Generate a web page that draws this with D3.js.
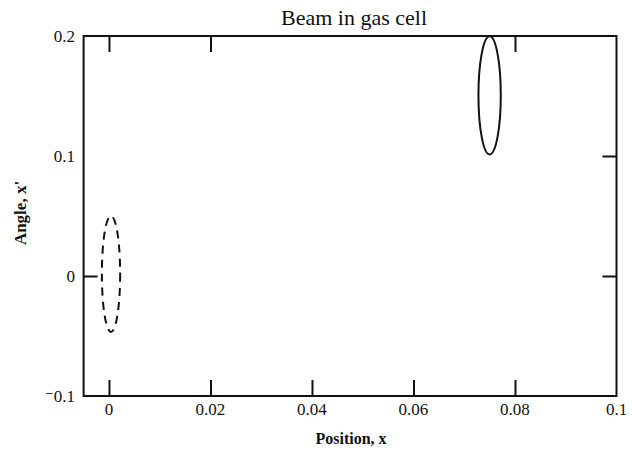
<!DOCTYPE html>
<html>
<head>
<meta charset="utf-8">
<script src="https://cdn.jsdelivr.net/npm/d3@7"></script>
<style>
  body { margin: 0; background: #fff; }
  text { font-family: "Liberation Serif", "DejaVu Serif", serif; fill: #111; }
</style>
</head>
<body>
<div id="chart"></div>
<script>
// axis ranges and ticks
const xDomain = [-0.005, 0.1];
const yDomain = [-0.1, 0.2];
const xTickLabels = [0, 0.02, 0.04, 0.06, 0.08, 0.1];
const yTickLabels = [-0.1, 0, 0.1, 0.2];
// tick marks that show on each side of the frame
const bottomTicks = [0, 0.02, 0.04, 0.06, 0.08];
const topTicks = [0, 0.02, 0.08];
const leftTicks = [0];
const rightTicks = [0, 0.1];

// beam ellipses: centre (x, x') and half widths
const ellipseNames = ["entrance", "gas cell"];
const ellipseCx = [0.0004, 0.0750];
const ellipseCy = [0.0017, 0.1505];
const ellipseRx = [0.0018, 0.0022];
const ellipseRy = [0.0483, 0.0492];
const ellipseDash = ["8,6", null];

const W = 633, H = 450;
const margin = { top: 36, right: 16.5, bottom: 54, left: 83.6 };

const svg = d3.select("#chart").append("svg")
    .attr("width", W)
    .attr("height", H);

const x = d3.scaleLinear().domain(xDomain).range([margin.left, W - margin.right]);
const y = d3.scaleLinear().domain(yDomain).range([H - margin.bottom, margin.top]);

const fmt = d => d < 0 ? "\u207B" + Math.abs(d) : String(d);

// frame
svg.append("rect")
    .attr("x", x(xDomain[0]))
    .attr("y", y(yDomain[1]))
    .attr("width", x(xDomain[1]) - x(xDomain[0]))
    .attr("height", y(yDomain[0]) - y(yDomain[1]))
    .attr("fill", "none")
    .attr("stroke", "#111")
    .attr("stroke-width", 2);

// inward tick marks
function ticks(axis, vals, size, translate) {
  const g = svg.append("g")
      .attr("transform", translate)
      .call(axis.tickValues(vals).tickSize(size).tickFormat(""));
  g.select(".domain").remove();
  g.selectAll(".tick line").attr("stroke", "#111").attr("stroke-width", 2);
}
ticks(d3.axisBottom(x), bottomTicks, -16, `translate(0,${y(yDomain[0])})`);
ticks(d3.axisTop(x), topTicks, -16, `translate(0,${y(yDomain[1])})`);
ticks(d3.axisLeft(y), leftTicks, -14, `translate(${x(xDomain[0])},0)`);
ticks(d3.axisRight(y), rightTicks, -14, `translate(${x(xDomain[1])},0)`);

// tick labels
svg.append("g").selectAll("text")
  .data(xTickLabels)
  .join("text")
    .attr("x", d => x(d))
    .attr("y", 415)
    .attr("text-anchor", "middle")
    .style("font-size", "17px")
    .text(fmt);

svg.append("g").selectAll("text")
  .data(yTickLabels)
  .join("text")
    .attr("x", 75)
    .attr("y", d => y(d) + 6)
    .attr("text-anchor", "end")
    .style("font-size", "17px")
    .text(fmt);

// ellipses
svg.append("g").selectAll("ellipse")
  .data(ellipseNames)
  .join("ellipse")
    .attr("cx", (d, i) => x(ellipseCx[i]))
    .attr("cy", (d, i) => y(ellipseCy[i]))
    .attr("rx", (d, i) => x(ellipseCx[i] + ellipseRx[i]) - x(ellipseCx[i]))
    .attr("ry", (d, i) => y(ellipseCy[i]) - y(ellipseCy[i] + ellipseRy[i]))
    .attr("fill", "none")
    .attr("stroke", "#111")
    .attr("stroke-width", 2)
    .attr("stroke-dasharray", (d, i) => ellipseDash[i]);

// title and axis labels
svg.append("text")
    .attr("x", 354)
    .attr("y", 25)
    .attr("text-anchor", "middle")
    .style("font-size", "22px")
    .text("Beam in gas cell");

svg.append("text")
    .attr("x", 351)
    .attr("y", 444)
    .attr("text-anchor", "middle")
    .style("font-size", "16px")
    .style("font-weight", "bold")
    .text("Position, x");

svg.append("text")
    .attr("transform", "translate(26,213) rotate(-90)")
    .attr("text-anchor", "middle")
    .style("font-size", "17px")
    .style("font-weight", "bold")
    .text("Angle, x'");
</script>
</body>
</html>
